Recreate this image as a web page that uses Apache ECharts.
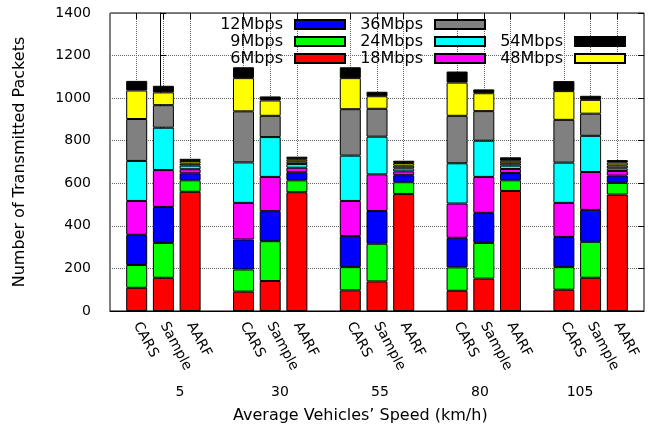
<!DOCTYPE html>
<html>
<head>
<meta charset="utf-8">
<script src="https://cdn.jsdelivr.net/npm/echarts@6/dist/echarts.min.js"></script>
<style>
  html, body { margin: 0; padding: 0; background: #fff; }
  #chart { width: 665px; height: 428px; }
</style>
</head>
<body>
<div id="chart"></div>
<script>
// speeds (km/h) and the three schemes shown at each speed
var speeds = [5, 30, 55, 80, 105];
var methods = ['CARS', 'Sample', 'AARF'];
var rates = ['6Mbps', '9Mbps', '12Mbps', '18Mbps', '24Mbps', '36Mbps', '48Mbps', '54Mbps'];
var colors = ['#ff0000', '#00ff00', '#0000ff', '#ff00ff', '#00ffff', '#808080', '#ffff00', '#000000'];

// packets per rate, order: CARS, Sample, AARF for speed 5, 30, 55, 80, 105
var r6  = [109, 156, 560,   91, 141, 558,   97, 139, 550,   95, 152, 564,  100, 156, 547];
var r9  = [107, 164,  54,  104, 187,  56,  109, 177,  55,  110, 168,  50,  106, 169,  55];
var r12 = [142, 169,  33,  141, 141,  38,  146, 154,  33,  139, 141,  34,  142, 150,  34];
var r18 = [159, 173,  19,  172, 161,  21,  165, 172,  18,  161, 169,  19,  160, 178,  22];
var r24 = [188, 199,  17,  190, 187,  18,  213, 177,  14,  189, 170,  16,  189, 170,  12];
var r36 = [197, 106,  10,  240, 100,  12,  218, 131,  13,  223, 139,  11,  201, 104,  14];
var r48 = [134,  60,  12,  156,  72,  10,  146,  59,  12,  156,  84,  12,  135,  65,  13];
var r54 = [ 45,  31,  10,   51,  19,  12,   51,  21,  11,   52,  18,  16,   47,  19,  12];
var values = [r6, r9, r12, r18, r24, r36, r48, r54];

// x slots: a blank slot between groups so the groups stand apart
var slots = [''];
speeds.forEach(function () {
    methods.forEach(function (m) { slots.push(m); });
    slots.push('');
});

function spread(arr) {
    var out = [], k = 0;
    slots.forEach(function (s) {
        if (s === '') { out.push('-'); }
        else { out.push(arr[k++]); }
    });
    return out;
}

var font = 'DejaVu Sans';
var notBlank = function (i, v) { return v !== ''; };

var series = rates.map(function (name, i) {
    return {
        name: name,
        type: 'bar',
        stack: 'total',
        barWidth: 21,
        xAxisIndex: 0,
        yAxisIndex: 0,
        itemStyle: { color: colors[i], borderColor: '#000', borderWidth: 1 },
        emphasis: { disabled: true },
        data: spread(values[i])
    };
});

function legendCol(names, right, top) {
    return {
        data: names,
        orient: 'vertical',
        align: 'right',
        right: right,
        top: top,
        padding: 0,
        itemGap: 0,
        itemWidth: 50,
        itemHeight: 9,
        icon: 'rect',
        selectedMode: false,
        textStyle: { fontFamily: font, fontSize: 16, color: '#000', lineHeight: 17, padding: [0, 7, 0, 0] }
    };
}

var myChart = echarts.init(document.getElementById('chart'));
myChart.setOption({
    animation: false,
    legend: [
        legendCol(['12Mbps', '9Mbps', '6Mbps'], 319, 16),
        legendCol(['36Mbps', '24Mbps', '18Mbps'], 179, 16),
        legendCol(['54Mbps', '48Mbps'], 39, 33)
    ],
    grid: {
        left: 110, right: 21, top: 13, bottom: 117,
        show: true, borderColor: '#000', borderWidth: 1
    },
    graphic: [{
        type: 'text',
        left: 233,
        top: 408,
        style: { text: "Average Vehicles\u2019 Speed (km/h)", font: '16px "DejaVu Sans"', fill: '#000' }
    }],
    xAxis: [
        {
            type: 'category',
            data: slots,
            boundaryGap: false,
            axisLine: { lineStyle: { color: '#000' } },
            axisTick: { inside: true, length: 6, interval: notBlank, lineStyle: { color: '#000' } },
            axisLabel: {
                interval: 0, rotate: -62, margin: 12,
                fontFamily: font, fontSize: 14, color: '#000'
            },
            splitLine: { show: true, interval: notBlank, lineStyle: { color: '#666', type: 'dotted' } }
        },
        {
            type: 'value',
            position: 'bottom',
            min: -12.5,
            max: 121,
            axisLine: { show: false },
            axisTick: { show: false },
            splitLine: { show: false },
            axisLabel: {
                customValues: speeds,
                margin: 74,
                fontFamily: font, fontSize: 14, color: '#000'
            }
        },
        {
            type: 'category',
            data: slots,
            position: 'top',
            boundaryGap: false,
            axisLine: { show: false },
            axisTick: { inside: true, length: 6, interval: notBlank, lineStyle: { color: '#000' } },
            axisLabel: { show: false },
            splitLine: { show: false }
        }
    ],
    yAxis: [
        {
            type: 'value',
            min: 0,
            max: 1400,
            interval: 200,
            name: 'Number of Transmitted Packets',
            nameLocation: 'middle',
            nameGap: 82,
            nameTextStyle: { fontFamily: font, fontSize: 16, color: '#000' },
            axisLine: { show: true, lineStyle: { color: '#000' } },
            axisTick: { show: true, inside: true, length: 6, lineStyle: { color: '#000' } },
            axisLabel: {
                margin: 19, fontFamily: font, fontSize: 14, color: '#000',
                formatter: function (v) { return String(v); }
            },
            splitLine: { show: true, lineStyle: { color: '#666', type: 'dotted' } }
        },
        {
            type: 'value',
            position: 'right',
            min: 0,
            max: 1400,
            interval: 200,
            axisLine: { show: false },
            axisTick: { show: true, inside: true, length: 6, lineStyle: { color: '#000' } },
            axisLabel: { show: false },
            splitLine: { show: false }
        }
    ],
    series: series
});
window.addEventListener('resize', function () {
    myChart.resize();
});
</script>
</body>
</html>
